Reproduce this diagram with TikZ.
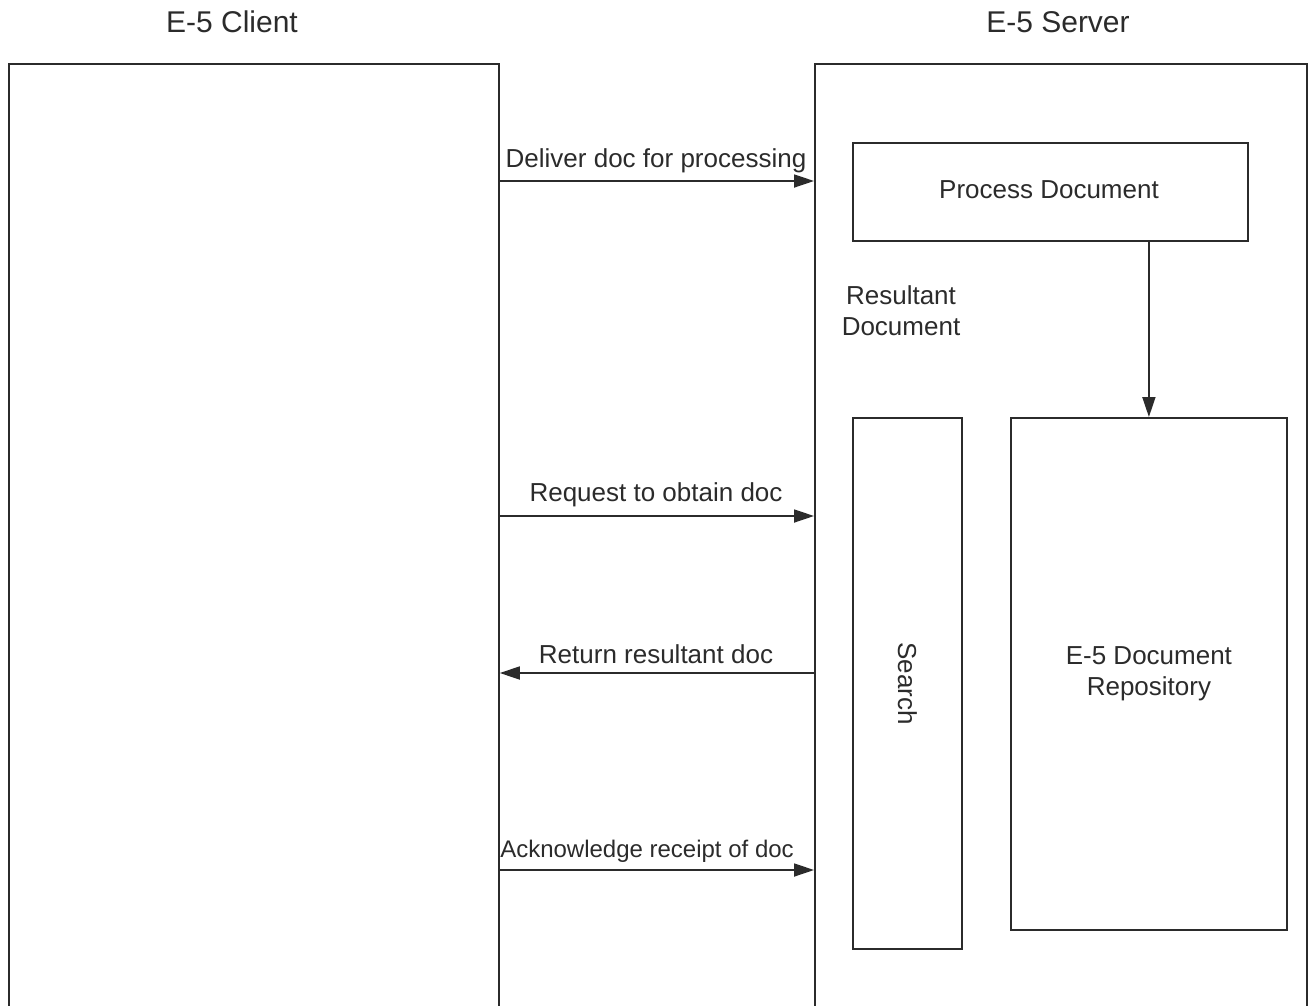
\documentclass[tikz,border=0pt]{standalone}
\usepackage{fontspec}
\setmainfont{Liberation Sans}
\usetikzlibrary{arrows.meta}
\definecolor{ink}{rgb}{0.17,0.17,0.17}

\begin{document}
\begin{tikzpicture}[x=1pt,y=1pt,yscale=-1,
  box/.style={draw=ink,line width=1.8pt,inner sep=0pt,anchor=north west},
  lbl/.style={text=ink,font=\fontsize{26}{31}\selectfont},
  msg/.style={draw=ink,line width=1.8pt,-{Triangle[length=20pt,width=13pt]}}]
			\clip (0,0) rectangle (1312,1005);
			
			% the two sides
			\node[box,minimum width=490,minimum height=1000] (client) at (8,63) {};
			\node[box,minimum width=492,minimum height=1000] (server) at (814,63) {};
			\node[lbl,anchor=base,font=\fontsize{30}{36}\selectfont] (clienttitle) at (232,32) {E-5 Client};
			\node[lbl,anchor=base,font=\fontsize{30}{36}\selectfont] (servertitle) at (1058,32) {E-5 Server};
			
			% inside the server
			\node[box,minimum width=395,minimum height=98] (proc) at (852,142) {};
			\node[lbl,anchor=base] at (1049,198) {Process Document};
			\node[box,minimum width=109,minimum height=531] (search) at (852,417) {};
			\node[lbl,rotate=-90] at (search.center) {Search};
			\node[box,minimum width=276,minimum height=512] (repo) at (1010,417) {};
			\node[lbl,align=center] at (repo.center) {E-5 Document\\Repository};
			\node[lbl,align=center] (result) at (901,311) {Resultant\\Document};
			\draw[msg] (proc.south -| repo.north) -- (repo.north);
			
			% messages
			\coordinate (m1) at (0,181);
			\coordinate (m2) at (0,516);
			\coordinate (m3) at (0,673);
			\coordinate (m4) at (0,870);
			\draw[msg] (client.east |- m1) -- (server.west |- m1);
			\draw[msg] (client.east |- m2) -- (server.west |- m2);
			\draw[msg] (server.west |- m3) -- (client.east |- m3);
			\draw[msg] (client.east |- m4) -- (server.west |- m4);
			\node[lbl,anchor=base] (deliver) at (656,167) {Deliver doc for processing};
			\node[lbl,anchor=base] (request) at (656,501) {Request to obtain doc};
			\node[lbl,anchor=base] (return) at (656,663) {Return resultant doc};
			\node[lbl,anchor=base,font=\fontsize{24}{29}\selectfont] (ack) at (647,857) {Acknowledge receipt of doc};
			\end{tikzpicture}
\end{document}
